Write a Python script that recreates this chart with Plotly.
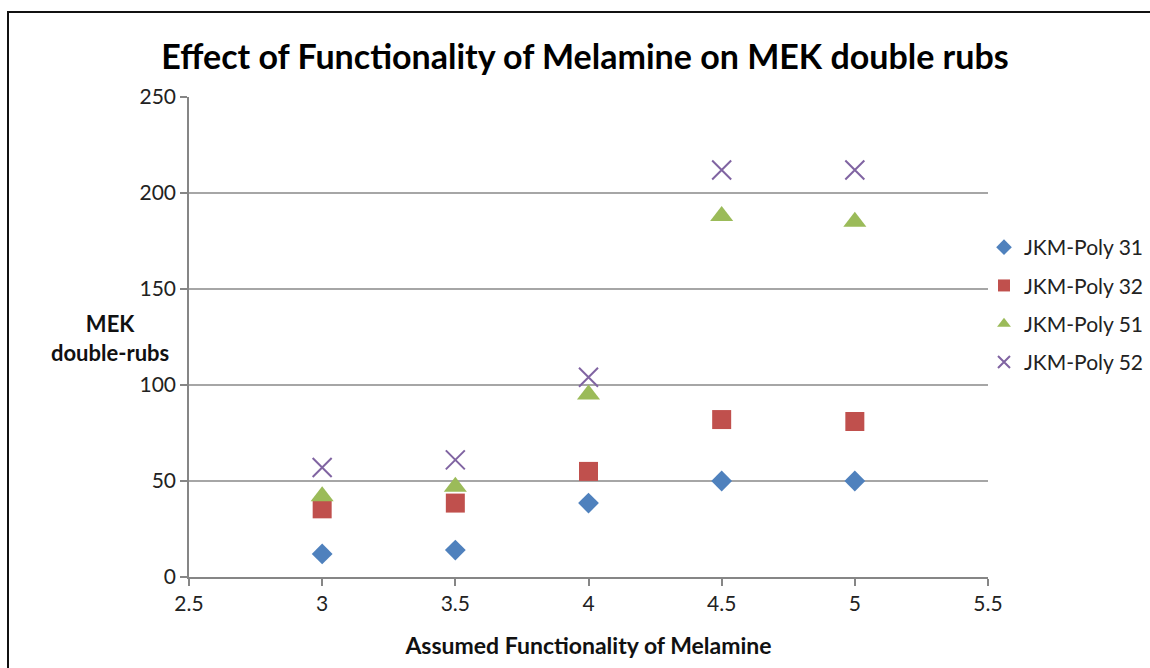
import plotly.graph_objects as go

x_vals = [3, 3.5, 4, 4.5, 5]
series_names = ["JKM-Poly 31", "JKM-Poly 32", "JKM-Poly 51", "JKM-Poly 52"]
poly31 = [12, 14, 38.5, 50, 50]
poly32 = [35.5, 38.5, 55, 82, 81]
poly51 = [42, 47, 95, 188, 185]
poly52 = [57, 61, 104, 212, 212]
y_ticks = [0, 50, 100, 150, 200, 250]
x_ticks = [2.5, 3, 3.5, 4, 4.5, 5, 5.5]

colors = ["#4F81BD", "#C0504D", "#9BBB59", "#8064A2"]
symbols = ["diamond", "square", "triangle-up", "x-thin-open"]
sizes = [16, 19, 20, 19]

FONT = "Lato"
W, H = 1150, 668
# plot area in screen pixels: x 189..988, y 97..577
PL, PR, PT, PB = 189, 988, 97, 577
L, R, T, B = PL, W - PR, PT, H - PB
pw = PR - PL
ph = PB - PT


def px(sx):
    return (sx - PL) / pw


def py(sy):
    return (PB - sy) / ph


fig = go.Figure()
for i, (name, ys) in enumerate(zip(series_names, [poly31, poly32, poly51, poly52])):
    marker = dict(symbol=symbols[i], size=sizes[i], color=colors[i])
    if symbols[i] == "x-thin-open":
        marker["line"] = dict(color=colors[i], width=2)
    else:
        marker["line"] = dict(width=0)
    fig.add_trace(go.Scatter(x=x_vals, y=ys, mode="markers", name=name,
                             marker=marker, legendgroup=name))

fig.update_layout(
    width=W, height=H,
    margin=dict(l=L, r=R, t=T, b=B, autoexpand=False),
    paper_bgcolor="white", plot_bgcolor="white",
    font=dict(family=FONT, color="#222222", size=21),
    title=dict(text="<b>Effect of Functionality of Melamine on MEK double rubs</b>",
               x=585 / W, xanchor="center", y=1 - 57 / H, yanchor="middle",
               font=dict(size=34, family=FONT, color="black")),
    xaxis=dict(range=[2.5, 5.5], tickvals=x_ticks, ticktext=[str(v) for v in x_ticks],
               showgrid=False, zeroline=False, showline=True, linecolor="#868686", linewidth=1.5,
               ticks="outside", ticklen=7, tickcolor="#868686", tickwidth=1.5,
               tickfont=dict(size=21, family=FONT, color="#222222"),
               title=dict(text="<b>Assumed Functionality of Melamine</b>",
                          font=dict(size=23, family=FONT, color="#111111"), standoff=24)),
    yaxis=dict(range=[0, 250], tickvals=y_ticks, showgrid=True, gridcolor="#A6A6A6", gridwidth=1.5,
               zeroline=False, showline=True, linecolor="#868686", linewidth=1.5,
               ticks="outside", ticklen=7, tickcolor="#868686", tickwidth=1.5,
               tickfont=dict(size=21, family=FONT, color="#222222")),
    legend=dict(x=px(984), xanchor="left", y=py(305), yanchor="middle",
                font=dict(size=21, family=FONT, color="#222222"),
                tracegroupgap=8, itemsizing="constant", itemwidth=30,
                bgcolor="rgba(0,0,0,0)"),
    showlegend=True,
)

fig.add_annotation(text="<b>MEK<br>double-rubs</b>", xref="paper", yref="paper",
                   x=px(110), y=py(338), xanchor="center", yanchor="middle",
                   showarrow=False, align="center",
                   font=dict(size=22, family=FONT, color="#111111"))

# chart border (left and top visible)
fig.add_shape(type="rect", xref="paper", yref="paper",
              x0=px(8), x1=px(1200), y0=py(720), y1=py(12),
              line=dict(color="#111111", width=2), layer="below")

fig.write_html("out.html",
               config={"displayModeBar": False},
               post_script="document.body.style.margin='0';document.body.style.overflow='hidden';")
